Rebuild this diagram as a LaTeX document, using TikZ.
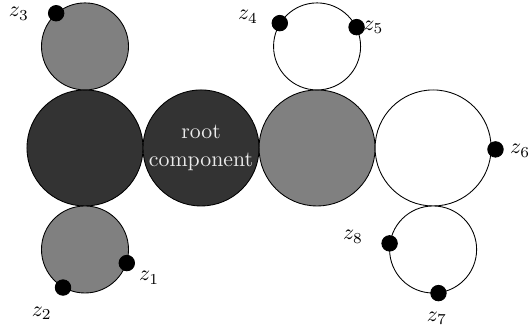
\documentclass[tikz,border=0pt]{standalone}
\usepackage{amsmath}
\usepackage{amssymb}
\usepackage{tikz}
\usetikzlibrary{shapes.geometric,calc,positioning}

\begin{document}
\begin{tikzpicture}[x=0.468cm, y=0.468cm]
	\tikzstyle{every node} = [circle, draw = black, inner sep = 0pt]
	\tikzstyle{bigc} = [minimum size = 1.872cm]
	\tikzstyle{smallc} = [minimum size = 1.404cm]
	\tikzstyle{dot} = [fill = black, minimum size = 0.25cm]
	\tikzstyle{lab} = [draw = none, rectangle]
\useasboundingbox (-6.93,-6.28) rectangle (11.34,5.10);
% big circles in a row
\node[bigc, fill = black!80] (L) at (-4, 0) {};
\node[bigc, fill = black!80, text = white!92!black, align = center] (R) at (0, 0) {root\\[1pt]component};
\node[bigc, fill = gray] (G) at (4, 0) {};
\node[bigc, fill = white] (W) at (8, 0) {};
% small circles
\node[smallc, fill = gray] (LT) at (-4, 3.5) {};
\node[smallc, fill = gray] (LB) at (-4, -3.5) {};
\node[smallc, fill = white] (GT) at (4, 3.5) {};
\node[smallc, fill = white] (WB) at (8, -3.5) {};
% marked points
\node[dot] (p1) at (LB.-18) {};
\node[dot] (p2) at (LB.-120) {};
\node[dot] (p3) at (LT.131) {};
\node[dot] (p4) at (GT.148) {};
\node[dot] (p5) at (GT.26) {};
\node[dot] (p6) at (10.15, -0.05) {};
\node[dot] (p7) at (WB.-83) {};
\node[dot] (p8) at (WB.172) {};
\node[lab] (l1) at (-1.79, -4.48) {$z_1$};
\node[lab] (l2) at (-5.49, -5.69) {$z_2$};
\node[lab] (l3) at (-6.28, 4.62) {$z_3$};
\node[lab] (l4) at (1.62, 4.52) {$z_4$};
\node[lab] (l5) at (5.94, 4.16) {$z_5$};
\node[lab] (l6) at (11.0, -0.1) {$z_6$};
\node[lab] (l7) at (8.13, -5.86) {$z_7$};
\node[lab] (l8) at (5.24, -3.06) {$z_8$};
\end{tikzpicture}
\end{document}
